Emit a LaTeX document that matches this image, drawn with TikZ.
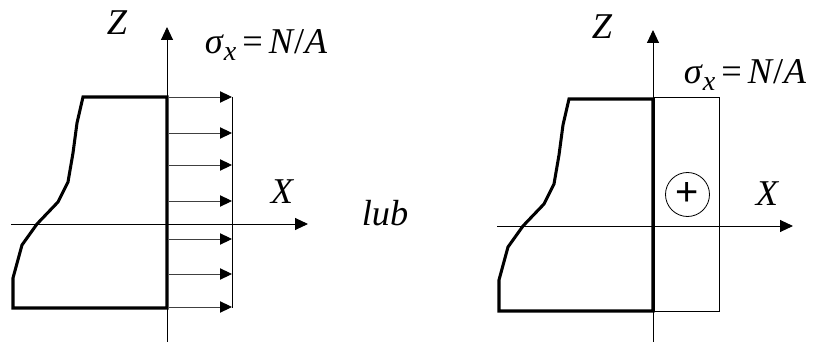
\documentclass[tikz,border=0pt]{standalone}
\usepackage{fontspec}
\setmainfont{Liberation Serif}
\setsansfont{Liberation Sans}
\usetikzlibrary{arrows.meta}

\tikzset{
  axis/.style={line width=0.8pt, -{Triangle[length=3.9mm, width=3.6mm]}},
  section/.style={line width=2.6pt, line join=miter},
  force/.style={line width=0.8pt, draw=black!75, -{Triangle[length=3.6mm, width=3.4mm, color=black]}},
  lbl/.style={font=\fontsize{31}{36}\selectfont\itshape, inner sep=0pt},
}
\newcommand{\sigmalabel}{\textit{σ}\raisebox{-0.45ex}{\fontsize{24}{28}\selectfont\textit{x}}\,=\,\textit{N}\kern-0.02em/\kern0.02em\textit{A}}

\begin{document}
\begin{tikzpicture}[x=0.3mm, y=-0.3mm]
  \useasboundingbox (0,0) rectangle (814,343);
  % Left: cross-section with uniform stress arrows
  \coordinate (zl0) at (167,342);
  \coordinate (zl1) at (167,27);
  \coordinate (xl0) at (11,224);
  \coordinate (xl1) at (308,224);
  \draw[axis] (zl0) -- (zl1);
  \draw[axis] (xl0) -- (xl1);
  \draw[section] (83,97) -- (167,97) -- (167,308) -- (13,308) -- (13,278)
    -- (22,245) -- (37,224) -- (58,202) -- (68,182) -- (73,153) -- (77,123) -- cycle;
  % stress arrows
  \foreach \i/\y in {1/97,2/133,3/165,4/201,5/239,6/274,7/307} {
    \coordinate (fs\i) at (169,\y);
    \coordinate (fe\i) at (232,\y);
    \draw[force] (fs\i) -- (fe\i);
  }
  \coordinate (vt) at (232,97);
  \coordinate (vb) at (232,308);
  \draw[line width=0.8pt] (vt) -- (vb);
  \node[lbl] (zleft) at (117,23) {Z};
  \node[lbl] (xleft) at (282,192) {X};
  \node[lbl, font=\fontsize{31}{36}\selectfont] (sleft) at (266,45) {\sigmalabel};
  % "or"
  \node[lbl] (lub) at (385,213) {lub};
  % Right: cross-section with stress diagram
  \coordinate (zr0) at (653,342);
  \coordinate (zr1) at (653,30);
  \coordinate (xr0) at (497,226);
  \coordinate (xr1) at (793,226);
  \draw[axis] (zr0) -- (zr1);
  \draw[axis] (xr0) -- (xr1);
  \draw[line width=0.8pt] (654,97) rectangle (719,311);
  \begin{scope}[shift={(486,2)}]
    \draw[section] (83,97) -- (167,97) -- (167,309) -- (13,309) -- (13,278)
      -- (22,245) -- (37,224) -- (58,202) -- (68,182) -- (73,153) -- (77,123) -- cycle;
  \end{scope}
  \node[draw, circle, line width=0.7pt, minimum size=13.2mm, inner sep=0pt,
        font=\fontsize{34}{36}\sffamily] (plus) at (687.5,194.5) {+};
  \node[lbl] (zright) at (602,27) {Z};
  \node[lbl] (xright) at (767,194) {X};
  \node[lbl, font=\fontsize{31}{36}\selectfont] (sright) at (745,75) {\sigmalabel};
\end{tikzpicture}
\end{document}
